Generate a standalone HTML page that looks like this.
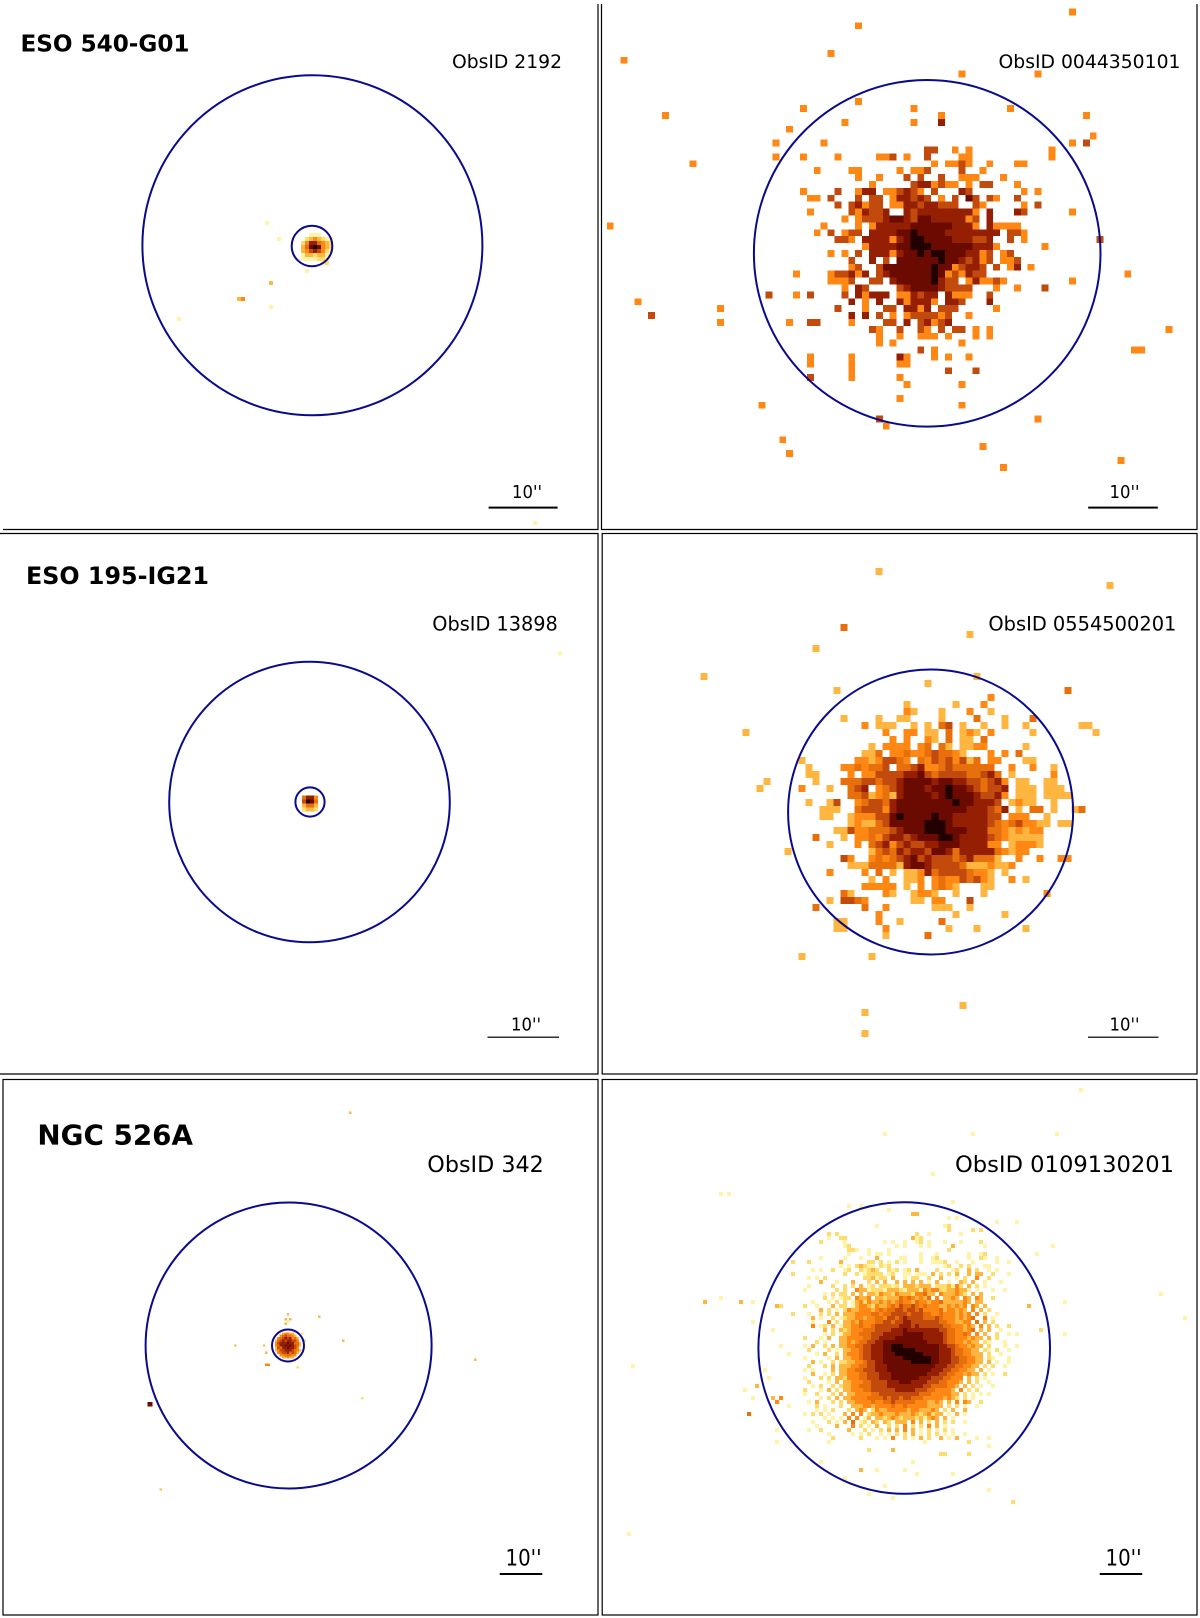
<!DOCTYPE html>
<html lang="en">
<head>
<meta charset="utf-8">
<title>X-ray image panels</title>
<style>
html,body{margin:0;padding:0;background:#fff}
svg{display:block}
text{font-family:"DejaVu Sans","Liberation Sans",sans-serif;fill:#000}
.src{font-weight:bold}
.frame{fill:none;stroke:#000;stroke-width:1.2}
.ring{fill:none;stroke:#0a0a8c;stroke-width:2}
</style>
</head>
<body>
<svg id="fig" xmlns="http://www.w3.org/2000/svg" width="1200" height="1618" viewBox="0 0 1200 1618">
<rect x="0" y="0" width="1200" height="1618" fill="#fff"/>
<g id="marks" shape-rendering="crispEdges"></g>

<path class="frame" d="M598 4V529.5H3"/>
<path class="frame" d="M601.5 4V529.5H1197V4"/>
<path class="frame" d="M0 533.5H598V1074H0"/>
<rect class="frame" x="602.2" y="533.5" width="594.8" height="540.5"/>
<rect class="frame" x="3" y="1079.5" width="595" height="535.5"/>
<rect class="frame" x="602.2" y="1079.5" width="594.8" height="535.5"/>

<circle class="ring" cx="312.4" cy="245.3" r="170"/>
<circle class="ring" cx="312" cy="246" r="20.3"/>
<circle class="ring" cx="927.2" cy="253.3" r="173.3"/>
<circle class="ring" cx="309.5" cy="802" r="140.3"/>
<circle class="ring" cx="310" cy="802" r="14.6"/>
<circle class="ring" cx="930.6" cy="812" r="142.5"/>
<circle class="ring" cx="288.6" cy="1345.5" r="143"/>
<circle class="ring" cx="288" cy="1345.5" r="16"/>
<circle class="ring" cx="904.2" cy="1348" r="145.8"/>

<text class="src" x="20.5" y="51.5" font-size="23" textLength="169" lengthAdjust="spacingAndGlyphs">ESO 540-G01</text>
<text class="src" x="26" y="584" font-size="23.8" textLength="183" lengthAdjust="spacingAndGlyphs">ESO 195-IG21</text>
<text class="src" x="37.4" y="1144.5" font-size="27.8" textLength="155.6" lengthAdjust="spacingAndGlyphs">NGC 526A</text>

<text x="452" y="68" font-size="18.4" textLength="110" lengthAdjust="spacingAndGlyphs">ObsID 2192</text>
<text x="998.5" y="68" font-size="18.6" textLength="182" lengthAdjust="spacingAndGlyphs">ObsID 0044350101</text>
<text x="432.3" y="630.7" font-size="19.2" textLength="125.5" lengthAdjust="spacingAndGlyphs">ObsID 13898</text>
<text x="988.4" y="630.7" font-size="19.3" textLength="188" lengthAdjust="spacingAndGlyphs">ObsID 0554500201</text>
<text x="427.3" y="1172" font-size="22.2" textLength="116.5" lengthAdjust="spacingAndGlyphs">ObsID 342</text>
<text x="955" y="1172" font-size="22.5" textLength="219" lengthAdjust="spacingAndGlyphs">ObsID 0109130201</text>

<text x="512" y="498" font-size="18" textLength="30" lengthAdjust="spacingAndGlyphs">10''</text>
<rect x="488.6" y="506.6" width="69" height="2"/>
<text x="1109.5" y="498" font-size="18" textLength="30" lengthAdjust="spacingAndGlyphs">10''</text>
<rect x="1088.2" y="506.6" width="69.6" height="2"/>
<text x="511" y="1030.5" font-size="18" textLength="30" lengthAdjust="spacingAndGlyphs">10''</text>
<rect x="487.5" y="1036.6" width="71.5" height="1.2"/>
<text x="1109.5" y="1030.5" font-size="18" textLength="30" lengthAdjust="spacingAndGlyphs">10''</text>
<rect x="1088" y="1036.6" width="70.5" height="1.2"/>
<text x="505.5" y="1565.5" font-size="22" textLength="36" lengthAdjust="spacingAndGlyphs">10''</text>
<rect x="499.7" y="1573" width="42.6" height="2"/>
<text x="1105.5" y="1565.5" font-size="22" textLength="36" lengthAdjust="spacingAndGlyphs">10''</text>
<rect x="1099.7" y="1573" width="42.5" height="2"/>
</svg>

<script>
// Pixel intensity levels, 0 = empty, 9 = brightest source counts.
const eso540ChandraCounts = [
 [0,0,1,1,1],
 [0,2,3,4,3,2,1,1],
 [2,4,7,7,5,4,3,2],
 [3,5,8,9,8,4,3,2],
 [3,4,6,7,6,4,2,1],
 [1,3,3,2,3,3,1],
 [1,1,1,1,2,2,1],
 [0,0,0,0,0,1,2]
];
const eso540ChandraStrayCols = [-9,-6,-8,-16,-15,-8,-31,6,1,58];
const eso540ChandraStrayRows = [-3,1,12,16,16,18,21,7,9,72];
const eso540ChandraStrayLevels = [1,1,3,3,4,1,1,2,1,1];

const eso540XmmCounts = [
 [],
 [0,0,0,4],
 [0,0,0,0,0,0,0,0,0,0,0,0,0,0,0,0,0,0,6,6,0,0,4,0,4,0,0,0,0,0,0,0,0,0,0,0,4],
 [4,0,0,0,0,4,0,0,0,0,0,4,4,6,0,4,0,0,6,0,0,0,0,4,4,0,0,0,0,0,0,0,0,0,0,0,4],
 [0,0,0,0,0,0,0,0,0,0,0,0,0,0,0,0,0,0,0,4,0,4,4,6,4,0,0,4,0,0,0,4,4],
 [0,0,4,0,0,0,0,4,4,0,0,0,0,0,4,0,4,4,6,0,0,0,0,6,0,0,4],
 [0,0,0,0,0,0,0,0,4,0,0,4,0,0,0,6,0,6,0,0,6,0,0,4,4,4,0,0,0,4],
 [0,0,0,0,0,0,0,0,0,0,4,0,0,0,0,0,6,7,7,4,6,4,4,0,4,0,6,6,0,0,0,4],
 [4,0,0,0,0,6,0,0,4,7,7,0,4,4,6,7,6,4,0,6,0,0,0,7,6,0,0,0,0,0,0,0,4,0,4],
 [0,4,4,0,6,0,0,0,6,0,6,6,0,4,7,7,6,7,6,0,4,0,6,0,8,6,0,6,4,0,0,6],
 [0,0,0,0,0,6,0,6,7,4,6,6,0,4,4,7,7,6,7,7,6,6,6,0,0,6,4,0,0,0,0,0,4,0,6],
 [0,4,0,0,0,0,0,6,4,7,6,6,7,0,0,7,6,7,7,7,7,7,7,7,7,4,0,7,0,0,0,7,6],
 [0,0,0,0,0,0,4,0,4,6,6,6,7,8,8,7,6,8,8,7,7,7,7,7,4,6,0,7],
 [0,0,0,4,0,0,0,0,4,0,4,7,7,7,7,7,8,8,8,8,8,8,7,7,7,4,0,7,4,4,4,4],
 [0,0,4,0,6,0,4,6,6,0,7,7,7,7,8,8,9,8,8,8,8,7,7,7,7,7,7,7,7,0,6,6,4],
 [0,0,0,0,0,6,6,4,0,7,7,7,7,4,7,8,9,9,8,8,8,8,7,7,7,6,6,7,0,0,6,0,4],
 [0,0,0,0,0,0,0,0,0,4,7,7,7,7,8,8,9,9,9,8,8,8,8,8,8,7,7,7,4,0,0,0,0,0,0,4],
 [0,0,0,0,4,0,4,0,6,0,7,7,7,4,7,8,8,9,8,9,9,8,8,8,7,7,4,6,0,4,6],
 [0,0,0,0,0,0,0,6,0,0,7,0,6,0,8,8,8,8,8,8,9,8,8,7,6,7,4,6,0,4,4,6],
 [0,0,0,0,0,0,0,4,6,0,0,6,8,8,8,8,8,8,8,9,8,8,4,6,7,7,6,0,6,0,4,7,0,4],
 [0,0,0,0,4,6,6,7,4,7,0,6,7,8,8,8,8,8,8,9,8,4,6,4,7,6,6],
 [0,0,0,0,4,4,4,6,0,0,6,6,0,7,8,8,8,8,8,9,7,6,6,0,4,7,4,4,6,4],
 [0,0,0,0,0,0,4,0,7,6,0,0,0,0,6,7,8,8,8,8,7,6,6,6,6,0,0,0,4,0,0,4,0,0,0,6],
 [0,6,0,0,0,0,6,0,7,4,7,7,7,0,4,4,7,6,7,7,0,7,4,4,4,0,0,6],
 [0,0,0,0,0,0,0,7,0,4,0,7,0,0,7,4,7,7,7,4,0,7,7,6,0,0,0,7],
 [0,0,0,0,0,6,0,0,0,4,0,0,6,6,0,7,7,4,7,0,6,6,6,0,0,0,0,0,4],
 [0,0,0,0,0,0,0,7,0,7,0,6,0,4,0,4,6,6,6,6,4,6,0,0,4],
 [0,6,6,0,0,0,0,4,0,0,0,0,6,6,0,7,0,6,7,4,6,7],
 [0,0,0,0,0,0,0,0,0,0,6,4,0,0,6,0,0,6,4,0,6,0,6,6,0,4,0,4],
 [0,0,0,0,0,0,0,0,0,0,0,4,0,0,4,0,0,4,4,4,0,4,0,0,0,4,0,4],
 [0,0,0,0,0,0,0,0,0,0,0,4,0,4,0,0,0,0,0,0,0,0,0,4],
 [0,0,0,0,0,0,0,0,0,0,0,0,0,0,0,0,0,6,0,4],
 [0,4,0,0,0,0,0,4,0,0,0,0,0,0,7,4,0,0,0,4,0,4,0,0,4],
 [0,4,0,0,0,0,0,4,0,0,0,0,0,0,4,4],
 [0,0,0,0,0,0,0,4,0,0,0,0,0,0,0,0,0,0,0,0,0,6,0,0,0,6],
 [0,6,0,0,0,0,0,4,0,0,0,0,0,0,4],
 [0,0,0,0,0,0,0,0,0,0,0,0,0,0,0,4,0,0,0,0,0,0,0,4]
];
const eso540XmmStrayCols = [39,8,4,-26,23,34,8,0,16,30,20,41,-20,20,16,6,-2,42,39,41,-4,-4,-16,-28,-24,-22,-12,-12,-5,-1,-1,-2,47,53,48,49,43,39,39,14,23,-6,34,11,12,-3,-2,26,29,46];
const eso540XmmStrayRows = [-18,-16,-12,-11,-9,-9,-5,-4,-4,-4,-3,-3,-3,-2,-2,-2,-1,0,1,1,1,3,4,13,24,26,25,27,23,20,23,27,20,28,31,31,15,21,11,38,39,39,41,41,42,44,46,45,48,47];
const eso540XmmStrayLevels = [4,4,4,4,4,4,4,4,4,4,4,4,4,7,4,4,4,4,4,6,4,4,4,4,4,6,4,4,6,4,4,4,4,4,4,4,6,4,4,4,4,4,4,6,4,4,4,4,4,4];

const eso195ChandraCounts = [
 [5,7,7,4],
 [6,9,8,5],
 [3,5,5,3],
 [2,3,3,2]
];
const eso195ChandraStrayCols = [64];
const eso195ChandraStrayRows = [-36];
const eso195ChandraStrayLevels = [1];

const eso195XmmCounts = [
 [0,0,0,0,0,0,0,0,0,0,0,0,0,0,3],
 [0,3,0,0,0,0,0,0,0,0,0,0,0,0,0,0,0,0,0,0,0,0,0,0,0,0,0,0,0,0,0,0,0,0,4],
 [0,0,0,0,0,0,0,0,0,0,0,0,0,0,0,0,0,0,0,0,0,0,0,4],
 [0,0,0,0,0,0,0,0,0,0,0,3,0,0,0,0,0,0,3,0,0,0,4],
 [0,0,0,0,0,0,0,0,0,0,0,4,3,0,0,0,3,0,0,0,4,0,0,3],
 [0,0,3,0,0,0,0,3,0,0,3,3,0,0,0,0,3,0,0,0,0,5,0,0,0,3,0,0,0,5],
 [0,0,0,0,0,4,0,3,3,3,0,0,3,0,3,0,5,6,0,3,0,0,3,0,0,3,0,0,3,0,0,0,0,0,0,0,3],
 [0,0,0,0,0,0,0,0,4,0,0,4,4,0,3,3,0,5,0,3,4,3,0,4,0,0,0,0,0,3],
 [0,0,0,0,0,0,0,0,0,4,0,4,0,0,4,3,0,5,0,3,3,0,5],
 [0,0,0,0,0,0,3,0,4,4,4,4,0,4,5,0,5,3,0,3,3,4,4,0,0,0,0,0,3],
 [0,0,0,0,0,3,3,5,0,4,4,5,4,4,5,6,5,5,4,3,0,0,0,4,0,4,0,5],
 [0,0,0,0,4,4,3,4,6,6,5,4,0,5,4,6,5,6,4,6,3,5,0,4,4,0,0,0,3,3],
 [0,0,4,4,5,4,5,5,6,0,5,5,6,7,4,4,5,6,5,5,5,5,5,5,0,0,4,0,0,4,0,0,3],
 [0,0,0,4,0,4,4,6,6,6,6,7,7,8,6,5,6,6,6,6,5,5,6,7,5,0,3,0,0,0,0,0,4],
 [0,0,5,5,5,6,6,5,6,6,7,8,8,8,8,7,8,8,7,7,6,6,5,6,7,4,0,3,3,0,0,3,3],
 [3,0,0,5,6,7,0,4,5,6,7,8,8,8,7,8,8,9,8,8,7,6,5,6,6,7,0,3,3,3,0,3,3,3],
 [0,0,0,5,5,6,3,4,5,3,7,8,8,8,8,7,8,9,8,8,8,7,6,6,7,4,0,3,3,3,0,3,3,3,3],
 [3,6,0,0,4,5,6,6,5,7,8,8,8,8,8,8,8,8,9,8,8,7,7,7,6,0,3,4,3,3,0,0,3],
 [3,3,0,0,5,6,6,6,4,7,8,8,8,8,8,8,8,8,8,8,7,7,7,6,5,7,0,3,0,5,5,0,3],
 [3,0,0,3,4,4,4,6,6,8,9,8,8,8,8,9,8,8,7,7,7,7,7,6,6,0,4,4,4,0,0,3],
 [0,0,0,3,4,3,3,5,6,8,8,8,8,8,9,9,9,8,7,7,7,7,7,6,5,4,5,6,4,4,3,3,0,3,3],
 [0,3,3,6,4,4,5,5,5,6,7,8,8,8,9,9,9,8,8,8,7,7,7,5,5,4,3,4,3,4,4],
 [0,0,3,0,4,4,5,4,6,7,7,6,7,8,8,8,9,9,8,7,7,7,7,6,5,4,3,3,3,3,3],
 [3,0,0,0,4,0,5,6,7,4,6,7,6,6,7,7,8,8,8,7,7,7,7,4,4,0,3,4,4,4,3],
 [0,0,0,0,0,0,3,5,6,5,7,6,7,7,6,8,8,7,5,7,7,7,7,7,5,4,3,4,4],
 [0,0,6,4,0,0,4,5,4,5,6,7,8,6,7,6,6,6,5,6,7,5,5,5,3,0,0,4,0,0,4,0,0,4,4],
 [0,0,0,3,3,3,5,5,5,5,3,7,8,8,7,6,6,6,6,5,3,3,3,4,3,3,4],
 [4,0,0,0,0,4,0,5,0,3,0,3,3,4,7,5,6,6,6,6,5,4,4,3,0,3],
 [0,0,0,0,0,0,3,0,4,0,0,3,3,4,0,4,5,4,4,6,5,6,4,3,0,0,4,0,3],
 [0,0,0,0,0,4,4,4,4,4,0,3,0,4,0,4,5,4,3,0,0,0,3,3],
 [0,0,5,3,0,0,0,0,4,3,0,0,3,4,4,3,0,0,3,0,0,0,3,0,0,0,0,0,0,0,0,4],
 [3,0,6,6,5,4,0,0,0,0,0,0,3,3,0,4,4,0,0,0,6],
 [0,0,0,0,0,5,0,0,4,0,0,0,0,0,0,3,3,3,0,0,3],
 [0,0,0,0,0,0,0,4,0,0,0,0,0,0,0,0,0,0,3,0,0,0,0,0,0,3],
 [0,3,3,0,0,0,0,4,0,0,3,0,0,0,0,0,5],
 [0,3,3,0,0,0,0,0,4,0,0,0,0,0,0,0,0,3,0,0,0,3,0,0,0,0,0,0,3],
 [0,0,0,0,0,0,0,0,3,0,0,0,0,0,5]
];
const eso195XmmStrayCols = [7,40,2,20,-2,-18,21,1,34,-12,37,38,-9,-10,36,35,-6,-4,6,-2,5,5,19,-4,-3,-3,-2,-2,-4,-3,-1,-1,-2];
const eso195XmmStrayRows = [-16,-14,-8,-7,-5,-1,-1,1,1,7,6,7,14,15,18,18,24,39,39,32,47,50,46,11,12,13,13,14,15,17,18,19,22];
const eso195XmmStrayLevels = [3,3,5,3,3,3,3,3,5,3,3,3,3,3,5,3,3,3,3,5,3,3,3,3,3,3,3,3,4,3,3,3,5];

const ngc526ChandraCounts = [
 [0,0,0,3,4,4,3,3],
 [0,0,4,5,6,5,5,4,3],
 [0,4,5,6,7,6,7,4,5,3],
 [3,5,6,7,6,7,7,6,6,4],
 [4,6,7,7,7,8,7,7,5,5,3],
 [4,5,7,7,8,7,8,7,6,5,3],
 [3,6,5,7,7,8,7,7,6,4],
 [3,4,6,6,7,7,7,6,5,4,3],
 [0,4,5,6,6,7,5,6,5,3],
 [0,0,4,4,5,5,5,4,4],
 [0,0,0,3,3,4,3,3]
];
const ngc526ChandraStrayCols = [31,18,28,-17,83,36,-48,5,5,4,6,4,-4,-4,-3,9,11,12,-5,-53,-52,-53,-52];
const ngc526ChandraStrayRows = [-92,-7,3,5,11,27,65,-8,-5,-6,-6,-4,8,13,13,14,0,3,5,29,29,30,30];
const ngc526ChandraStrayLevels = [3,3,3,3,3,2,3,3,2,3,3,3,3,4,4,2,2,2,3,8,8,8,8];

// Rows of per-pixel levels, one digit per pixel, "." = no counts.
const ngc526XmmCounts = [
 ".......................................................",
 "...................1................12.................",
 ".....................................2.....2.2.........",
 ".......2.2...................2..1.......1..............",
 ".......1..22................312.........................",
 ".....2.....1.........1.1..1..12.1...1...1....2.........",
 "...........12...........1.1...1.1.....3.......1........",
 "............221..1....1..............2..................",
 "............1....1.11.1.......1...1.......1..12........",
 ".....1.....1...1...3.....11...1..12.......1..21..1.....",
 "..2.......3......22.2.1.2.1...1..1112..1...1.....1..1..",
 "..........1.1.23211.212.............12..2.2...11.......",
 "...1.1..2..12..21232..212.12.3....2...12..3.2..1.1.....",
 "...........2..2.12222.12..11.111.3.2.2.3..3.33..2...1..",
 "..1.1.2.........223122.3..1.22..2..3...1.2..4..2.......",
 ".....3...1...3...2.3.3..3.3.3.3.1.3..1..32.3..1...1....",
 "..1.....2..2.2.3.12.22212.3332333.2223142.3.2.1.......",
 ".1.......2.2..43312221333213331434422334331.1...1..1...",
 "......1.2.22.3.3.33243324333244533.4333432.3.3.........",
 "......2.1.122.4334.33233354543435.4.3343.43.43..2......",
 "...1...1.2.2.134243343434544354434453333343.33.........",
 ".2..1...3.22.13443243345465565454443343434.43.3........",
 ".....3.2.1.2433444345455665665644445344343.4.3.2.......",
 "..1..2.2.3.33344445545566665666554454443434.4.2..1.....",
 "...3.1..2.1233443445546656766665556544434345..4.1......",
 "...1...4.2.33435444556656677666666655443344.5.3.2......",
 "...4.12.3.1334454456666667776766666655444343.4.3.2..2..",
 "......3.2.3234445556666777877777777665544345.3.3..1....",
 "......1.2.133445556667777788888777776554454.4.3..2..1.1",
 ".2...1.3..334444556677778888888777776554443433.3.2.....",
 "....2.1...33434556677888888888887777655443433.21...1...",
 ".1.3..2.3.334455667778899988888888877665443433.2...1..1",
 "..2....2.1.3344566777889999998888887776554433.21.2..1..",
 "....1.3..2.34445667778889999999888877765544333.2..1....",
 ".1.....1.3.33445667778888899999998877766554433.21...1..",
 "...3.1..2.223344566778888888999998877766554433.3.1..1..",
 "..2...2.3.33344556677788888888888877766554433.2.2..1...",
 ".1.1....3.3344556667778888888888877766554433.3.1.......",
 "...3..1.2.33444556667778888888887776655443433.2.1..2...",
 ".1...2.2.33244455666777888888877766655444.3.2.1........",
 "..2....1.3.334445566667778887777666554443.3.2..1.......",
 "...1.2..2.233445556666777777777665555443.3.2.1..1......",
 ".2...1.3.2.3344455666666777776665544443.4.2.2..........",
 ".1..2...2.3.3344445566666666665554444433.2.1.1.1.......",
 ".....1.2.3.33444455556566566555444443432.2.1...........",
 "..1.3...2.2.334444544556555554443343.3.4.43..2.........",
 "....2.1...2..33344344445445444443333.2.2.1..1..........",
 "....1.1.2...2.343.24334444434433343.2.3..3.............",
 ".1.2.2.1...3.4.4.2334333433343234233.1.3.1............",
 "......1.1.1.4.4.13.3323432333231343.3.1................",
 "...1...2.1.3.5.12.32.32.333.4.3.2.3.2.2..1.............",
 "....1....3...4.2.1.3..2.2.4.2.2.4.3.1..................",
 "..1..2......3...2.1.2.3.3.4.3.1.2.1.2.1................",
 ".......1.....3.1.2..1.1.2.2.3.1.2.2.1.1..1.............",
 "........2......2.....1.4..2.1.3.2..3.1.3....1.........."
];
const ngc526XmmStrayCols = [70,21,43,64,33,-20,-18,-24,-20,-15,-12,-42,-43,90,96,66,66,63,59,60,57,53,47,23,21,17,29,15,11,38,47,47,42,42,35,36,31,28,26,23,19,19,17,13,7,7,5,-6,-6,-3,-13,-12,-14,-11,-6,-7,-5,-9,-8,-3,-7,-5,-12,-6,-5,-2,-2,-2,12,15,22,28,29,38,37,39,49,54];
const ngc526XmmStrayRows = [-33,-22,-22,-22,-12,-7,-7,20,19,20,20,36,78,18,24,20,28,6,8,27,21,70,67,69,66,68,63,62,64,63,54,56,55,58,58,58,55,60,62,57,54,62,57,53,53,55,60,55,52,46,48,44,42,41,45,44,44,37,39,33,27,31,25,21,21,23,10,13,-4,-4,-3,-2,-2,-5,-1,-1,0,0];
const ngc526XmmStrayLevels = [1,1,1,1,1,1,1,3,1,3,1,1,1,1,1,1,1,1,1,2,3,2,1,1,1,1,1,3,1,1,1,1,2,2,2,2,1,1,1,3,1,1,2,1,1,1,1,1,1,1,5,1,1,3,4,3,4,1,1,1,1,1,1,3,2,2,2,2,1,1,1,3,3,1,1,1,1,1];

// Colour for each level, pale yellow through orange and dark red to black.
const levelColours = ["#ffffff","#fff3a8","#ffdc6e","#ffb640","#ff8814","#e8700c","#c24a0c","#951f02","#6a0a00","#220000"];

// Axis functions: panel pixel column / row to page coordinates.
function makeAxes(x0, y0, cell) {
  return {
    cell: cell,
    x: function (col) { return x0 + col * cell; },
    y: function (row) { return y0 + row * cell; }
  };
}
const marks = document.getElementById('marks');
function addPixel(axes, col, row, level, name) {
  const el = document.createElementNS('http://www.w3.org/2000/svg', 'rect');
  el.setAttribute('x', axes.x(col));
  el.setAttribute('y', axes.y(row));
  el.setAttribute('width', axes.cell);
  el.setAttribute('height', axes.cell);
  el.setAttribute('fill', levelColours[level]);
  
  
  marks.appendChild(el);
}
function drawCounts(axes, rows, name) {
  rows.forEach(function (row, r) {
    for (let c = 0; c < row.length; c++) {
      const level = Number(row[c]);
      if (level > 0) addPixel(axes, c, r, level, name);
    }
  });
}
function drawStrays(axes, cols, rows, levels, name) {
  cols.forEach(function (col, i) {
    addPixel(axes, col, rows[i], levels[i], name);
  });
}

const eso540ChandraAxes = makeAxes(301, 233, 4);
const eso540XmmAxes = makeAxes(800, 132.7, 6.9);
const eso195ChandraAxes = makeAxes(302, 795.6, 4);
const eso195XmmAxes = makeAxes(826.5, 680, 7);
const ngc526ChandraAxes = makeAxes(274.8, 1332.3, 2.4);
const ngc526XmmAxes = makeAxes(799, 1220, 4);

drawCounts(eso540ChandraAxes, eso540ChandraCounts, 'eso540-chandra-pixel');
drawStrays(eso540ChandraAxes, eso540ChandraStrayCols, eso540ChandraStrayRows, eso540ChandraStrayLevels, 'eso540-chandra-stray-pixel');
drawCounts(eso540XmmAxes, eso540XmmCounts, 'eso540-xmm-pixel');
drawStrays(eso540XmmAxes, eso540XmmStrayCols, eso540XmmStrayRows, eso540XmmStrayLevels, 'eso540-xmm-stray-pixel');
drawCounts(eso195ChandraAxes, eso195ChandraCounts, 'eso195-chandra-pixel');
drawStrays(eso195ChandraAxes, eso195ChandraStrayCols, eso195ChandraStrayRows, eso195ChandraStrayLevels, 'eso195-chandra-stray-pixel');
drawCounts(eso195XmmAxes, eso195XmmCounts, 'eso195-xmm-pixel');
drawStrays(eso195XmmAxes, eso195XmmStrayCols, eso195XmmStrayRows, eso195XmmStrayLevels, 'eso195-xmm-stray-pixel');
drawCounts(ngc526ChandraAxes, ngc526ChandraCounts, 'ngc526-chandra-pixel');
drawStrays(ngc526ChandraAxes, ngc526ChandraStrayCols, ngc526ChandraStrayRows, ngc526ChandraStrayLevels, 'ngc526-chandra-stray-pixel');
drawCounts(ngc526XmmAxes, ngc526XmmCounts, 'ngc526-xmm-pixel');
drawStrays(ngc526XmmAxes, ngc526XmmStrayCols, ngc526XmmStrayRows, ngc526XmmStrayLevels, 'ngc526-xmm-stray-pixel');
</script>
</body>
</html>
